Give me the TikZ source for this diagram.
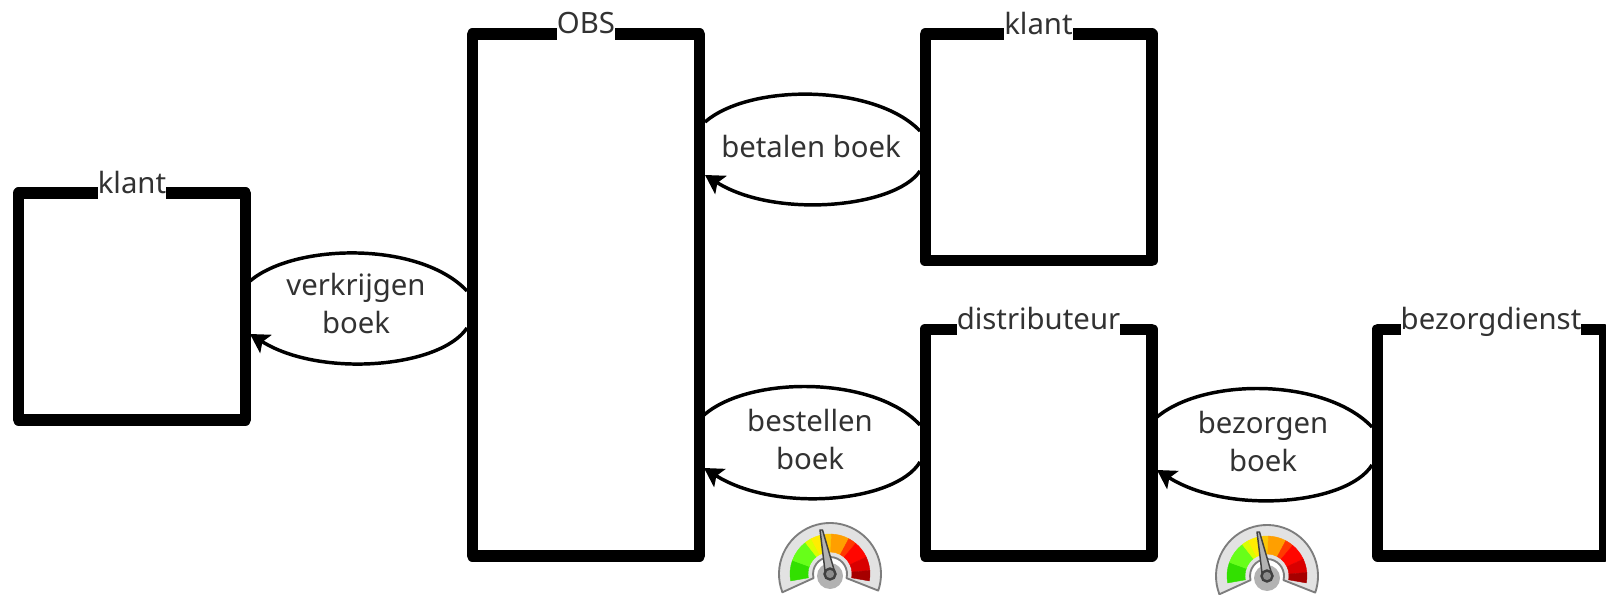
\documentclass[tikz,border=0pt]{standalone}
\usepackage{fontspec}
\setmainfont{Noto Sans}
\usetikzlibrary{arrows.meta}
\definecolor{tekstgrijs}{RGB}{50,50,50}
\tikzset{
  bak/.style={draw=black,fill=white,line width=8.5pt,line join=round,outer sep=0pt,minimum width=170pt},
  titel/.style={fill=white,inner sep=0pt,anchor=base,text depth=5pt,text=tekstgrijs,font=\fontsize{22}{26}\selectfont},
  proces/.style={inner sep=0pt,align=center,text=tekstgrijs,font=\fontsize{22}{28.5}\selectfont},
  lijn/.style={line width=2.6pt,draw=black},
  pijl/.style={lijn,-{Stealth[length=14pt,width=16pt,inset=3pt]}},
  meter/.pic={
    %Shape: Body
    \draw [fill={rgb,255:red,226;green,226;blue,226},draw={rgb,255:red,125;green,125;blue,125},line width=1.4pt,line join=round] (201:51) arc[start angle=201,end angle=-19,radius=51] -- (-14:17) arc[start angle=-14,end angle=194,radius=17] -- cycle;
    %Shape: Colour band
    \foreach \van/\tot/\kleur in {190/160/green!70!lime!88!black,160/128/green!55!lime!90!white,128/118/lime!55!yellow,118/103/yellow!95!orange,103/88/yellow!60!orange,88/62/orange!75!yellow,62/50/orange!45!red,50/25/red!95!orange,25/5/red!85!black,5/-10/red!65!black}
      \fill [\kleur,draw=\kleur,line width=0.3pt] (\van:22) arc[start angle=\van,end angle=\tot,radius=22] -- (\tot:40) arc[start angle=\tot,end angle=\van,radius=40] -- cycle;
    %Shape: Hub
    \fill [black!30] (0,-2) circle [radius=13];
    %Shape: Needle
    \draw [fill=black!30,draw=black!75,line width=1.1pt,line join=round] (-4.5,-1) -- (-10,44) -- (-7.5,44) -- (5,1) -- cycle;
    \draw [fill=black!45,draw=black!75,line width=1.8pt] (0,0) circle [radius=5.5];
  }
}
\begin{document}
\begin{tikzpicture}[x=0.75pt,y=0.75pt,yscale=-1,xscale=1]
\useasboundingbox (0,0) rectangle (1606,595);

%Shape: Boxes
\node [bak,minimum height=170pt] (klantlinks) at (132,306.5) {};
\node [bak,minimum height=391.5pt] (obs) at (586,295) {};
\node [bak,minimum height=170pt] (klantrechts) at (1038.5,147.5) {};
\node [bak,minimum height=170pt] (distributeur) at (1038.5,442.5) {};
\node [bak,minimum height=170pt] (bezorgdienst) at (1491,442.5) {};

% Text Node
\node [titel] (titelklantlinks) at (klantlinks.north) {klant};
\node [titel] (titelobs) at (obs.north) {OBS};
\node [titel] (titelklantrechts) at (klantrechts.north) {klant};
\node [titel] (titeldistributeur) at (distributeur.north) {distributeur};
\node [titel] (titelbezorgdienst) at (bezorgdienst.north) {bezorgdienst};

%Curve ends
\coordinate (va) at (250,281);
\coordinate (vb) at (467,291);
\coordinate (vc) at (467,328);
\coordinate (vd) at (250,334);
\coordinate (ba) at (705,122);
\coordinate (bb) at (920,131);
\coordinate (bc) at (920,171);
\coordinate (bd) at (705,175);
\coordinate (ta) at (704,415);
\coordinate (tb) at (920,425);
\coordinate (tc) at (920,462);
\coordinate (td) at (704,468);
\coordinate (za) at (1157,417);
\coordinate (zb) at (1372,427);
\coordinate (zc) at (1372,465);
\coordinate (zd) at (1157,470);

%Curve Lines
\draw [lijn] (va) .. controls (295,243) and (420,241) .. (vb);
\draw [pijl] (vc) .. controls (440,368) and (320,378) .. (vd);
\draw [lijn] (ba) .. controls (750,83) and (875,84) .. (bb);
\draw [pijl] (bc) .. controls (895,208) and (775,219) .. (bd);
\draw [lijn] (ta) .. controls (750,375) and (875,376) .. (tb);
\draw [pijl] (tc) .. controls (895,503) and (775,513) .. (td);
\draw [lijn] (za) .. controls (1205,377) and (1325,378) .. (zb);
\draw [pijl] (zc) .. controls (1347,505) and (1228,515) .. (zd);

% Text Node
\node [proces] (verkrijgen) at (356,304) {verkrijgen\\boek};
\node [proces] (betalen) at (811,147) {betalen boek};
\node [proces] (bestellen) at (810,439) {bestellen\\boek};
\node [proces] (bezorgen) at (1263,441) {bezorgen\\boek};

%Shape: Meters
\pic (meterlinks) at (830,574) {meter};
\pic (meterrechts) at (1267,576) {meter};
\end{tikzpicture}
\end{document}
